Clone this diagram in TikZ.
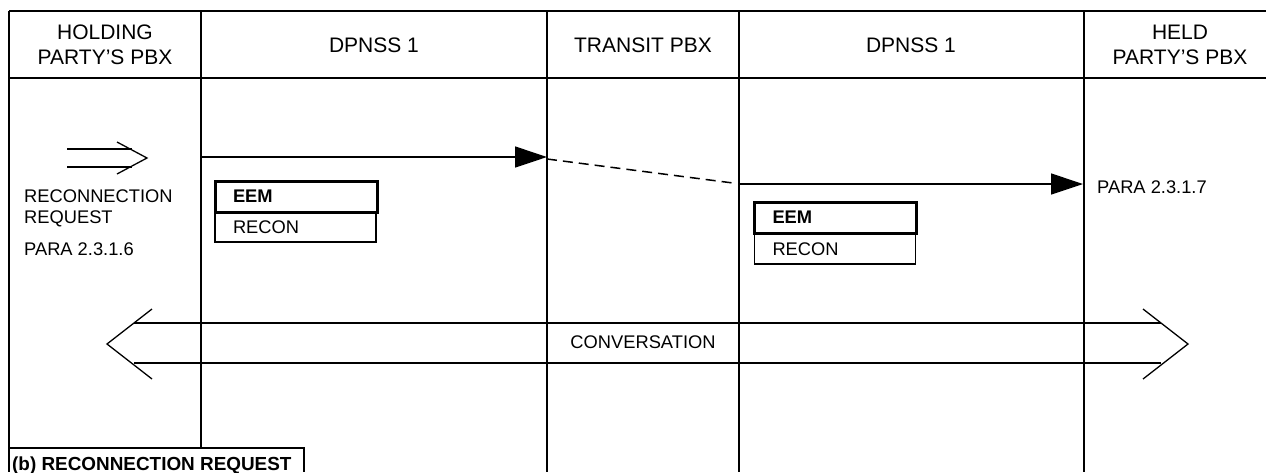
\documentclass[tikz,border=0pt]{standalone}
\usepackage{fontspec}
\setmainfont{Liberation Sans}
\usetikzlibrary{arrows.meta}
\begin{document}
\begin{tikzpicture}[x=1pt,y=-1pt,
  frame/.style={line width=2.2pt},
  msg/.style={line width=1.3pt,-{Triangle[length=32pt,width=21pt]}},
  dashmsg/.style={line width=1.5pt,dash pattern=on 10pt off 6pt},
  thinline/.style={line width=1.3pt},
  chev/.style={line width=1.3pt,line join=miter},
  hdr/.style={inner sep=0pt,font=\fontsize{21}{25.5}\selectfont,align=center},
  txt/.style={inner sep=0pt,font=\fontsize{18.3}{20}\selectfont,anchor=base west},
  eembox/.style={draw,line width=3pt,minimum width=162pt,minimum height=31pt,inner xsep=18pt,text width=126pt,align=left,font=\fontsize{18.3}{20}\selectfont\bfseries,inner ysep=0pt},
  reconbox/.style={draw,line width=1.3pt,minimum width=161pt,minimum height=30pt,inner xsep=18pt,text width=125pt,align=left,font=\fontsize{18.3}{20}\selectfont,inner ysep=0pt},
  labelbox/.style={inner sep=0pt,font=\fontsize{18.9}{20}\selectfont\bfseries,anchor=base west}
]
\useasboundingbox (0,0) rectangle (1266,472);
\fill[white] (0,0) rectangle (1266,472);

% lane coordinates
\coordinate (T0) at (9,11);   \coordinate (B0) at (9,472);
\coordinate (T1) at (201,11); \coordinate (B1) at (201,448);
\coordinate (T2) at (547,11); \coordinate (B2) at (547,472);
\coordinate (T3) at (739,11); \coordinate (B3) at (739,472);
\coordinate (T4) at (1084,11);\coordinate (B4) at (1084,472);
\coordinate (TR) at (1266,11);
\coordinate (HL) at (9,78);   \coordinate (HR) at (1266,78);

% frame
\draw[frame] (T0) -- (TR);
\draw[frame] (HL) -- (HR);
\draw[frame] (T0) -- (B0);
\draw[frame] (T1) -- (B1);
\draw[frame] (T2) -- (B2);
\draw[frame] (T3) -- (B3);
\draw[frame] (T4) -- (B4);

% headers
\node[hdr] (h0) at (105,45) {HOLDING\\PARTY’S PBX};
\node[hdr,anchor=base] (h1) at (374,52) {DPNSS 1};
\node[hdr,anchor=base] (h2) at (643,52) {TRANSIT PBX};
\node[hdr,anchor=base] (h3) at (911,52) {DPNSS 1};
\node[hdr] (h4) at (1180,45) {HELD\\PARTY’S PBX};

% reconnection request stimulus (hollow double arrow)
\coordinate (ra1) at (67,149);  \coordinate (ra2) at (132,149);
\coordinate (rb1) at (67,167);  \coordinate (rb2) at (132,167);
\coordinate (rc1) at (117,142); \coordinate (rtip) at (147,158); \coordinate (rc2) at (117,174);
\draw[thinline] (ra1) -- (ra2);
\draw[thinline] (rb1) -- (rb2);
\draw[chev] (rc1) -- (rtip) -- (rc2);

\node[txt] (t1) at (24,202) {RECONNECTION};
\node[txt] (t2) at (24,223) {REQUEST};
\node[txt] (t3) at (24,255) {PARA 2.3.1.6};

% messages
\coordinate (m1s) at (201,157); \coordinate (m1e) at (547,157);
\coordinate (d1) at (547,159);  \coordinate (d2) at (733,183);
\coordinate (m2s) at (739,184); \coordinate (m2e) at (1083,184);
\draw[msg] (m1s) -- (m1e);
\draw[dashmsg] (d1) -- (d2);
\draw[msg] (m2s) -- (m2e);

\node[txt] (p7) at (1097,193) {PARA 2.3.1.7};

% EEM boxes
\node[reconbox] (r1) at (295.5,227) {RECON};
\node[eembox] (e1) at (296,196.5) {EEM};
\node[reconbox] (r2) at (835,249) {RECON};
\node[eembox] (e2) at (835.5,217.5) {EEM};

% conversation
\coordinate (cu1) at (134,323); \coordinate (cu2) at (1161,323);
\coordinate (cl1) at (134,363); \coordinate (cl2) at (1161,363);
\coordinate (lc1) at (152,309); \coordinate (ltip) at (107,344); \coordinate (lc2) at (152,379);
\coordinate (rcc1) at (1143,309); \coordinate (rctip) at (1188,344); \coordinate (rcc2) at (1143,379);
\draw[thinline] (cu1) -- (cu2);
\draw[thinline] (cl1) -- (cl2);
\draw[chev] (lc1) -- (ltip) -- (lc2);
\draw[chev] (rcc1) -- (rctip) -- (rcc2);
\node[inner sep=0pt,font=\fontsize{18.3}{20}\selectfont,anchor=base] (conv) at (643,348) {CONVERSATION};

% figure label
\coordinate (lb0) at (9,448); \coordinate (lb1) at (304,448); \coordinate (lb2) at (304,472);
\draw[line width=1.5pt] (lb0) -- (lb1) -- (lb2);
\node[labelbox] (lab) at (12,470) {(b) RECONNECTION REQUEST};
\end{tikzpicture}
\end{document}
